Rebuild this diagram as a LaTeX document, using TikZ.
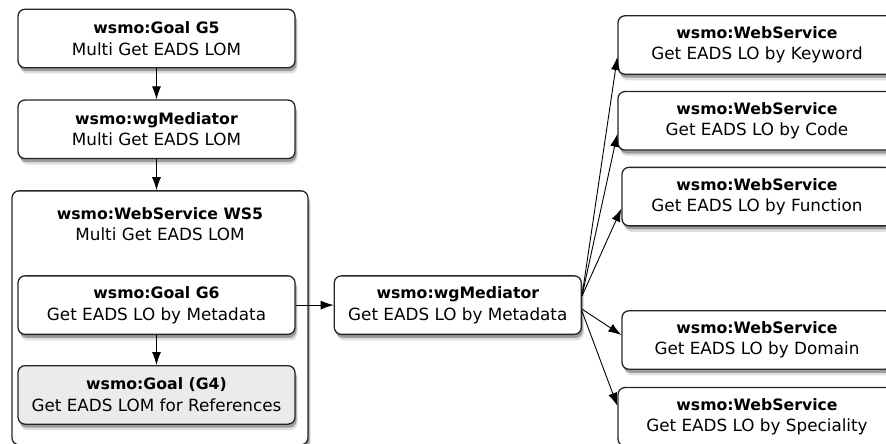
\documentclass[tikz,border=0pt]{standalone}
\usepackage{fontspec}
\setmainfont{DejaVu Sans}
\usetikzlibrary{positioning, arrows.meta, shadows}

\newcommand{\boxtext}[2]{{\fontsize{15.7}{21.5}\selectfont\bfseries #1}\\#2}

\begin{document}
\begin{tikzpicture}[line width=0.9pt,x=1pt,y=-1pt,node distance=31pt]
	\tikzstyle{every node}=[font=\fontsize{16.8}{21.5}\selectfont,align=center]
	\tikzstyle{box}=[draw=black!85,line width=1.3pt,rounded corners=7pt,fill=white,
		inner sep=0pt,minimum height=58.5pt,
		drop shadow={shadow xshift=2.5pt,shadow yshift=-6pt,opacity=.12,fill=black},
		drop shadow={shadow xshift=1.5pt,shadow yshift=-3.5pt,opacity=.3,fill=black}]
	\tikzstyle{flow}=[-{Latex[length=13pt,width=9pt]}]
	\useasboundingbox (0,0) rectangle (886,444);
	
	% left column
	\node[box,minimum width=277pt] (g5) at (156.5,38.5) {\boxtext{wsmo:Goal G5}{Multi Get EADS LOM}};
	\node[box,minimum width=277pt] (medmulti) [below=of g5] {\boxtext{wsmo:wgMediator}{Multi Get EADS LOM}};
	\node[box,minimum width=296pt,minimum height=254pt,xshift=3.5pt] (ws5) [below=of medmulti] {};
	\node (ws5title) at ([yshift=-34pt]ws5.north) {\boxtext{wsmo:WebService WS5}{Multi Get EADS LOM}};
	\node[box,minimum width=277pt] (g6) [below=116pt of medmulti] {\boxtext{wsmo:Goal G6}{Get EADS LO by Metadata}};
	\node[box,minimum width=277pt,fill=black!8] (g4) [below=30pt of g6] {\boxtext{wsmo:Goal (G4)}{Get EADS LOM for References}};
	
	% mediator
	\node[box,minimum width=247pt] (medmeta) [right=38pt of g6] {\boxtext{wsmo:wgMediator}{Get EADS LO by Metadata}};
	
	% web services
	\node[box,minimum width=278pt] (wskey) at (757,45) {\boxtext{wsmo:WebService}{Get EADS LO by Keyword}};
	\node[box,minimum width=278pt] (wscode) [below=16pt of wskey] {\boxtext{wsmo:WebService}{Get EADS LO by Code}};
	\node[box,minimum width=270pt] (wsfunc) [below=16pt of wscode] {\boxtext{wsmo:WebService}{Get EADS LO by Function}};
	\node[box,minimum width=270pt] (wsdomain) at (757,340) {\boxtext{wsmo:WebService}{Get EADS LO by Domain}};
	\node[box,minimum width=278pt] (wsspec) [below=17pt of wsdomain] {\boxtext{wsmo:WebService}{Get EADS LO by Speciality}};
	
	\draw[flow] (g5) -- (medmulti);
	\draw[flow] (medmulti.south) -- (medmulti.south |- ws5.north);
	\draw[flow] (g6) -- (g4);
	\draw[flow] (g6) -- (medmeta);
	\draw[flow] ([yshift=9pt]medmeta.east) -- ([yshift=-12pt]wskey.west);
	\draw[flow] ([yshift=9pt]medmeta.east) -- ([yshift=-13pt]wscode.west);
	\draw[flow] ([yshift=9pt]medmeta.east) -- ([yshift=-12pt]wsfunc.west);
	\draw[flow] ([yshift=-4pt]medmeta.east) -- ([yshift=5pt]wsdomain.west);
	\draw[flow] ([yshift=-6pt]medmeta.east) -- ([yshift=11pt]wsspec.west);
\end{tikzpicture}
\end{document}
